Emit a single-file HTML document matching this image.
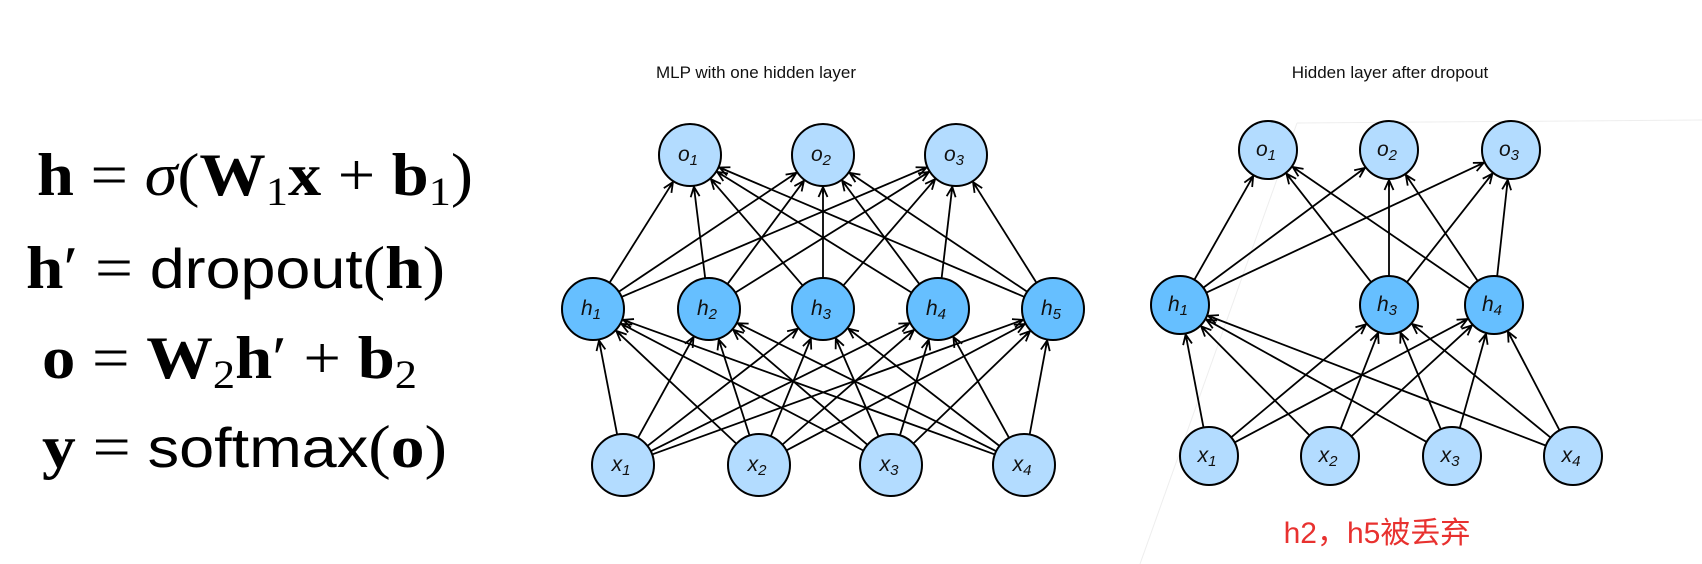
<!DOCTYPE html>
<html><head><meta charset="utf-8">
<style>
html,body{margin:0;padding:0;background:#fff;}
svg{display:block;}
</style></head>
<body>
<svg id="s" width="1702" height="564" xmlns="http://www.w3.org/2000/svg">
<defs>
<marker id="ar" viewBox="0 0 12 12" refX="11" refY="6" markerWidth="12" markerHeight="12" markerUnits="userSpaceOnUse" orient="auto">
<path d="M1,1.5 L11,6 L1,10.5 M11,6 L4,6" fill="none" stroke="#000" stroke-width="1.8"/>
</marker>
</defs>
<line x1="1297" y1="123" x2="1702" y2="120" stroke="#eee" stroke-width="1"/>
<line x1="1297" y1="123" x2="1140" y2="564" stroke="#eee" stroke-width="1"/>
<g font-family="Liberation Serif, serif" font-size="60" fill="#000">
<text x="37" y="195" textLength="436" lengthAdjust="spacingAndGlyphs"><tspan font-weight="bold">h</tspan> = <tspan font-style="italic">σ</tspan>(<tspan font-weight="bold">W</tspan><tspan font-size="40" dy="10">1</tspan><tspan font-weight="bold" dy="-10">x</tspan> + <tspan font-weight="bold">b</tspan><tspan font-size="40" dy="10">1</tspan><tspan dy="-10">)</tspan></text>
<text x="26" y="288" textLength="419" lengthAdjust="spacingAndGlyphs"><tspan font-weight="bold">h</tspan>′ = <tspan font-family="Liberation Sans, sans-serif" font-size="56">dropout</tspan>(<tspan font-weight="bold">h</tspan>)</text>
<text x="42" y="378" textLength="375" lengthAdjust="spacingAndGlyphs"><tspan font-weight="bold">o</tspan> = <tspan font-weight="bold">W</tspan><tspan font-size="40" dy="10">2</tspan><tspan font-weight="bold" dy="-10">h</tspan>′ + <tspan font-weight="bold">b</tspan><tspan font-size="40" dy="10">2</tspan></text>
<text x="42" y="467" textLength="405" lengthAdjust="spacingAndGlyphs"><tspan font-weight="bold">y</tspan> = <tspan font-family="Liberation Sans, sans-serif" font-size="56">softmax</tspan>(<tspan font-weight="bold">o</tspan>)</text>
</g>
<g font-family="Liberation Sans, sans-serif" font-size="17" fill="#111" text-anchor="middle">
<text x="756" y="78">MLP with one hidden layer</text>
<text x="1390" y="78">Hidden layer after dropout</text>
</g>
<text x="1377" y="543" text-anchor="middle" font-family="Liberation Sans, 'Noto Sans CJK SC', sans-serif" font-size="30" fill="#e8312f">h2，h5被丢弃</text>
<g id="edges" stroke="#000" stroke-width="1.8" fill="none"></g>
<g id="nodes"></g>
</svg>
<script>
var NS="http://www.w3.org/2000/svg";
var E=document.getElementById('edges'),N=document.getElementById('nodes');
function edge(a,b,r){var dx=b[0]-a[0],dy=b[1]-a[1],d=Math.hypot(dx,dy),ux=dx/d,uy=dy/d;
var l=document.createElementNS(NS,'line');l.setAttribute('x1',a[0]+ux*r);l.setAttribute('y1',a[1]+uy*r);
l.setAttribute('x2',b[0]-ux*(r+1));l.setAttribute('y2',b[1]-uy*(r+1));l.setAttribute('marker-end','url(#ar)');E.appendChild(l);}
function node(p,r,fill,letter,sub){var c=document.createElementNS(NS,'circle');c.setAttribute('cx',p[0]);c.setAttribute('cy',p[1]);c.setAttribute('r',r);
c.setAttribute('fill',fill);c.setAttribute('stroke','#000');c.setAttribute('stroke-width','2');N.appendChild(c);
var t=document.createElementNS(NS,'text');t.setAttribute('x',p[0]-2);t.setAttribute('y',p[1]+6);t.setAttribute('text-anchor','middle');
t.setAttribute('font-family','Liberation Sans, sans-serif');t.setAttribute('font-style','italic');t.setAttribute('font-size','21');t.setAttribute('fill','#111');
t.innerHTML=letter+'<tspan font-size="15" dy="4">'+sub+'</tspan>';N.appendChild(t);}
var LB='#b3dcff',DB='#66bfff';
// left
var lo=[[690,155],[823,155],[956,155]],lh=[[593,309],[709,309],[823,309],[938,309],[1053,309]],lx=[[623,465],[759,465],[891,465],[1024,465]];
lx.forEach(function(x){lh.forEach(function(h){edge(x,h,31);});});
lh.forEach(function(h){lo.forEach(function(o){edge(h,o,31);});});
lo.forEach(function(p,i){node(p,31,LB,'o',i+1);});
lh.forEach(function(p,i){node(p,31,DB,'h',i+1);});
lx.forEach(function(p,i){node(p,31,LB,'x',i+1);});
// right
var ro=[[1268,150],[1389,150],[1511,150]],rh=[[1180,305,1],[1389,305,3],[1494,305,4]],rx=[[1209,456],[1330,456],[1452,456],[1573,456]];
rx.forEach(function(x){rh.forEach(function(h){edge(x,h,29);});});
rh.forEach(function(h){ro.forEach(function(o){edge(h,o,29);});});
ro.forEach(function(p,i){node(p,29,LB,'o',i+1);});
rh.forEach(function(p){node(p,29,DB,'h',p[2]);});
rx.forEach(function(p,i){node(p,29,LB,'x',i+1);});
</script>
</body></html>
